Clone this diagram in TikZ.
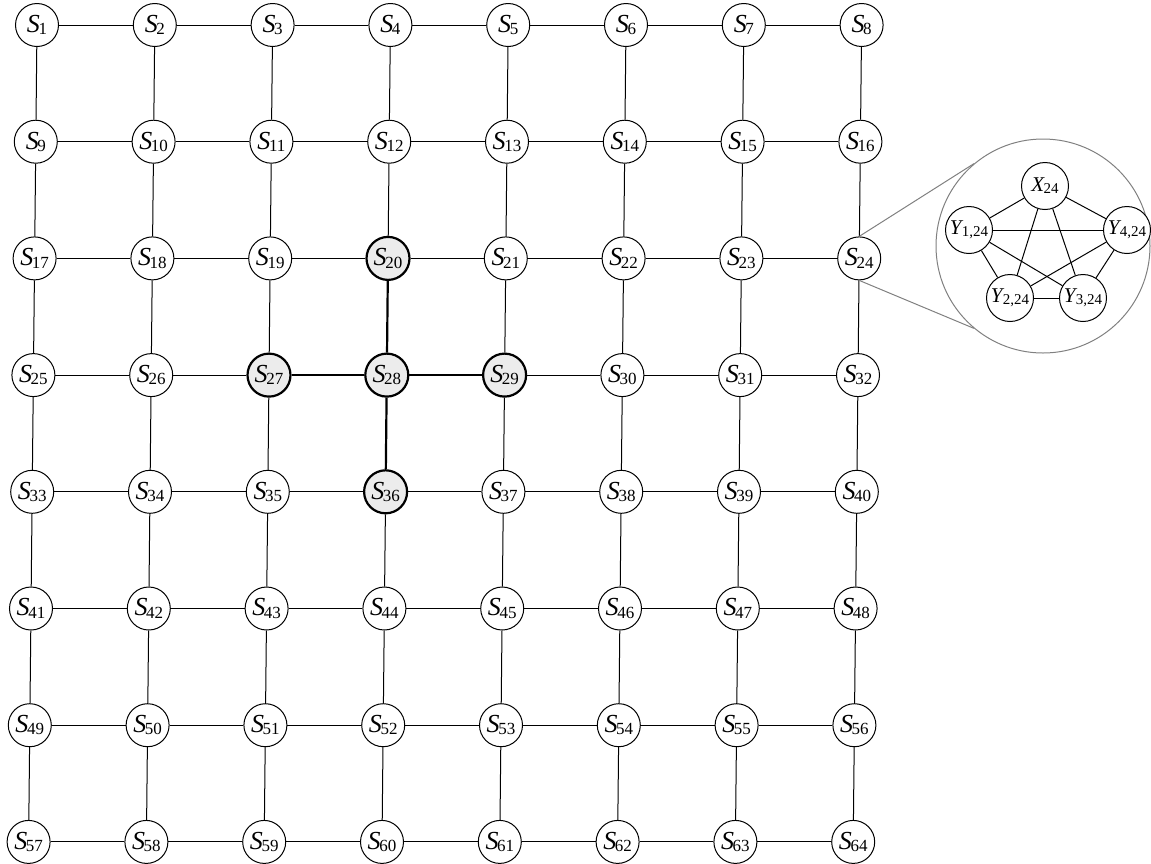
\documentclass[tikz,border=0pt]{standalone}
\usepackage{fontspec}
\setmainfont{Liberation Serif}

\newcommand\nlbl[3][8.5]{\textit{#2}\kern-0.7pt\raisebox{-0.2ex}{\fontsize{#1}{#1}\selectfont #3}}

\begin{document}
\begin{tikzpicture}[x=0.5pt,y=-0.5pt,
  site/.style={circle,draw,line width=0.5pt,fill=white,minimum size=21.5pt,inner sep=0pt,font=\fontsize{13}{13}\selectfont},
  hot/.style={site,fill=gray!15,line width=1.1pt},
  link/.style={line width=0.5pt},
  hotlink/.style={line width=1.1pt},
  part/.style={circle,draw,line width=0.5pt,fill=white,minimum size=23.5pt,inner sep=0pt,font=\fontsize{10.5}{10.5}\selectfont},
  lens/.style={circle,draw=gray,line width=0.5pt,minimum size=107pt,inner sep=0pt},
  lensline/.style={draw=gray,line width=0.5pt}]
\useasboundingbox (0,0) rectangle (1151,863);
% 8x8 grid of sites
\foreach \r in {0,...,7} \foreach \c in {0,...,7} {
  \pgfmathtruncatemacro\k{8*\r+\c+1}
  \pgfmathsetmacro\px{37+117.8*\c-1.2*\r}
  \pgfmathsetmacro\py{25+116.7*\r}
  \ifnum\numexpr(\k-28)*(\k-27)*(\k-29)*(\k-20)*(\k-36)\relax=0
    \def\look{hot}\else\def\look{site}\fi
  \node[\look] (s\k) at (\px,\py) {\nlbl{S}{\k}};
}
% grid links, the ones at S28 thick
\foreach \k in {1,...,64} {
  \pgfmathtruncatemacro\e{\k+1}
  \pgfmathtruncatemacro\s{\k+8}
  \ifnum\numexpr(\k-28)*(\e-28)\relax=0 \def\lk{hotlink}\else\def\lk{link}\fi
  \pgfmathtruncatemacro\m{mod(\k,8)}
  \ifnum\m>0 \draw[\lk] (s\k) -- (s\e); \fi
  \ifnum\numexpr(\k-28)*(\s-28)\relax=0 \def\lk{hotlink}\else\def\lk{link}\fi
  \ifnum\k<57 \draw[\lk] (s\k) -- (s\s); \fi
}
% zoom on S24
\node[lens] (zoom) at (1043,246) {};
\draw[lensline] (s24.north) -- (zoom.130);
\draw[lensline] (s24.south) -- (zoom.230);
\node[part] (x24) at (1045,186) {\nlbl[7.5]{X}{24}};
\node[part] (y1) at (969,230) {\nlbl[7.5]{Y}{1,24}};
\node[part] (y4) at (1127,230) {\nlbl[7.5]{Y}{4,24}};
\node[part] (y2) at (1010,298) {\nlbl[7.5]{Y}{2,24}};
\node[part] (y3) at (1083,298) {\nlbl[7.5]{Y}{3,24}};
\foreach \u/\v in {x24/y1,x24/y2,x24/y3,x24/y4,y1/y2,y1/y3,y1/y4,y2/y3,y2/y4,y3/y4}
  \draw[link] (\u) -- (\v);
\end{tikzpicture}
\end{document}
